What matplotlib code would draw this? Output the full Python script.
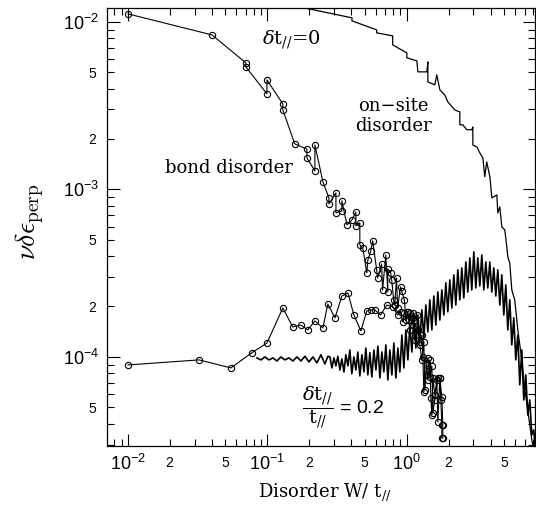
import numpy as np
import matplotlib
matplotlib.use("Agg")
import matplotlib.pyplot as plt
from matplotlib.ticker import FixedLocator, FuncFormatter, LogLocator

# ---- bond disorder, delta t = 0 (open circles) ----
bond0_W = [0.0100, 0.0400, 0.0701, 0.0701, 0.0992, 0.0992, 0.129, 0.129, 0.157,
           0.192, 0.192, 0.219, 0.219, 0.250, 0.276, 0.276, 0.310, 0.310, 0.342,
           0.342, 0.372, 0.404, 0.431, 0.431, 0.460, 0.460, 0.483, 0.516, 0.525,
           0.551, 0.569, 0.607, 0.617, 0.659, 0.670, 0.706, 0.730, 0.730, 0.766,
           0.779, 0.804, 0.817, 0.844, 0.858, 0.901, 0.916, 0.961, 0.984, 1.017,
           1.050, 1.104, 1.140, 1.199, 1.239, 1.281, 1.324, 1.346, 1.391, 1.415,
           1.462, 1.486, 1.511, 1.536, 1.587, 1.640, 1.668, 1.724, 1.753, 1.782, 1.782]
bond0_E = [1.116e-2, 8.36e-3, 5.69e-3, 5.38e-3, 3.72e-3, 4.50e-3, 3.24e-3, 2.98e-3, 1.87e-3,
           1.74e-3, 1.54e-3, 1.29e-3, 1.84e-3, 1.11e-3, 8.90e-4, 8.19e-4, 9.53e-4, 7.24e-4, 7.44e-4,
           8.54e-4, 6.14e-4, 6.58e-4, 7.34e-4, 6.06e-4, 6.31e-4, 4.66e-4, 4.47e-4, 3.17e-4, 3.79e-4,
           4.29e-4, 4.93e-4, 3.31e-4, 2.96e-4, 3.59e-4, 2.51e-4, 4.06e-4, 2.44e-4, 3.35e-4, 3.17e-4,
           2.88e-4, 2.19e-4, 2.04e-4, 2.96e-4, 1.96e-4, 2.62e-4, 2.48e-4, 2.19e-4, 1.66e-4, 1.86e-4,
           1.45e-4, 1.71e-4, 1.26e-4, 1.45e-4, 1.18e-4, 9.60e-5, 1.23e-4, 6.35e-5, 8.96e-5, 7.29e-5,
           9.60e-5, 5.69e-5, 4.50e-5, 7.49e-5, 5.93e-5, 7.29e-5, 4.09e-5, 7.49e-5, 5.54e-5, 3.93e-5, 3.28e-5]

# ---- bond disorder, delta t / t = 0.2 (open circles) ----
bond2_W = [0.0100, 0.0323, 0.0547, 0.0774, 0.0992, 0.129, 0.152, 0.174, 0.195, 0.219,
           0.250, 0.271, 0.305, 0.342, 0.378, 0.417, 0.468, 0.516, 0.551, 0.588,
           0.648, 0.718, 0.791, 0.858, 0.901, 0.931, 0.961, 1.000, 1.033, 1.050,
           1.086, 1.104, 1.140, 1.180, 1.199, 1.239, 1.281, 1.302, 1.324, 1.391,
           1.415, 1.462, 1.511, 1.536, 1.587, 1.668, 1.724, 1.782, 1.811, 1.811]
bond2_E = [8.96e-5, 9.60e-5, 8.60e-5, 1.06e-4, 1.21e-4, 1.96e-4, 1.51e-4, 1.55e-4, 1.45e-4, 1.64e-4,
           1.49e-4, 2.07e-4, 1.71e-4, 2.31e-4, 2.41e-4, 1.78e-4, 1.43e-4, 1.88e-4, 1.91e-4, 1.91e-4,
           1.78e-4, 2.04e-4, 1.99e-4, 1.78e-4, 1.86e-4, 1.62e-4, 1.83e-4, 1.86e-4, 1.66e-4, 1.83e-4,
           1.55e-4, 1.83e-4, 1.66e-4, 1.78e-4, 1.45e-4, 1.23e-4, 1.35e-4, 1.00e-4, 6.18e-5, 9.21e-5,
           9.86e-5, 7.60e-5, 8.84e-5, 4.63e-5, 5.54e-5, 7.49e-5, 7.49e-5, 5.77e-5, 3.93e-5, 3.28e-5]

# ---- on-site disorder, delta t = 0 (line) ----
site0_W = [0.157, 0.404, 0.404, 0.607, 0.607, 0.791, 0.791, 1.000, 1.000, 1.180,
           1.199, 1.391, 1.415, 1.415, 1.587, 1.640, 1.724, 1.872, 1.967, 2.208,
           2.399, 2.399, 2.518, 2.692, 2.925, 2.973, 2.973, 3.18, 3.34, 3.51,
           3.62, 3.74, 3.94, 4.07, 4.42, 4.49, 4.64, 4.80, 5.04, 5.21,
           5.30, 5.47, 5.66, 5.94, 6.25, 6.67, 7.02, 7.36, 7.87, 8.27]
site0_E = [1.245e-2, 1.057e-2, 1.014e-2, 8.96e-3, 8.60e-3, 8.25e-3, 7.29e-3, 6.53e-3, 6.10e-3, 5.85e-3,
           5.03e-3, 5.03e-3, 5.77e-3, 4.38e-3, 4.21e-3, 4.83e-3, 3.93e-3, 3.66e-3, 3.33e-3, 2.98e-3,
           2.90e-3, 2.43e-3, 2.43e-3, 2.27e-3, 2.27e-3, 2.36e-3, 1.84e-3, 1.79e-3, 1.65e-3, 1.54e-3,
           1.19e-3, 1.46e-3, 1.19e-3, 8.90e-4, 9.27e-4, 7.24e-4, 7.86e-4, 5.97e-4, 5.73e-4, 4.53e-4,
           3.95e-4, 3.64e-4, 2.51e-4, 2.19e-4, 1.45e-4, 9.60e-5, 6.35e-5, 4.83e-5, 3.20e-5, 2.60e-5]

# ---- on-site disorder, delta t / t = 0.2 (noisy line) ----
site2_W = [0.0841, 0.0898, 0.0960, 0.1025, 0.1095, 0.1170, 0.1250, 0.1335, 0.1426, 0.1524,
           0.1628, 0.1739, 0.1858, 0.1985, 0.2120, 0.2264, 0.2419, 0.2584, 0.2715,
           0.281, 0.290, 0.300, 0.310, 0.320, 0.331, 0.342, 0.354, 0.365, 0.378,
           0.390, 0.403, 0.417, 0.431, 0.445, 0.460, 0.476, 0.492, 0.508, 0.525,
           0.543, 0.561, 0.580, 0.600, 0.620, 0.641, 0.662, 0.684, 0.707, 0.731,
           0.755, 0.781, 0.807, 0.834, 0.862, 0.891, 0.921, 0.952, 0.984, 1.017,
           1.051, 1.086, 1.123, 1.160, 1.199, 1.239, 1.281, 1.324, 1.368, 1.414,
           1.462, 1.511, 1.561, 1.614, 1.668, 1.724, 1.782, 1.842, 1.903, 1.967,
           2.033, 2.102, 2.172, 2.245, 2.320, 2.398, 2.479, 2.562, 2.648, 2.737,
           2.829, 2.923, 3.022, 3.123, 3.228, 3.336, 3.448, 3.564, 3.683, 3.807,
           3.935, 4.067, 4.203, 4.344, 4.490, 4.642, 4.797, 4.958, 5.125, 5.297,
           5.474, 5.658, 5.848, 6.044, 6.247, 6.457, 6.673, 6.897, 7.129, 7.368,
           7.615, 7.871, 8.135, 8.408]
site2_E = [9.86e-5, 9.60e-5, 1.00e-4, 9.60e-5, 9.86e-5, 9.46e-5, 1.00e-4, 9.60e-5, 9.86e-5, 9.46e-5,
           1.00e-4, 9.46e-5, 1.01e-4, 9.34e-5, 1.00e-4, 9.21e-5, 1.03e-4, 9.08e-5, 1.01e-4,
           1.00e-4, 8.60e-5, 9.86e-5, 8.84e-5, 1.01e-4, 8.36e-5, 9.73e-5, 8.14e-5, 1.03e-4, 8.84e-5,
           1.10e-4, 7.92e-5, 1.00e-4, 8.36e-5, 1.07e-4, 7.70e-5, 1.03e-4, 8.14e-5, 1.13e-4, 7.81e-5,
           1.06e-4, 7.60e-5, 1.10e-4, 8.36e-5, 1.16e-4, 7.49e-5, 1.07e-4, 8.14e-5, 1.18e-4, 7.29e-5,
           1.10e-4, 7.81e-5, 1.21e-4, 7.49e-5, 1.13e-4, 8.14e-5, 1.35e-4, 8.60e-5, 1.45e-4, 9.60e-5,
           1.55e-4, 1.07e-4, 1.71e-4, 1.13e-4, 1.78e-4, 1.26e-4, 1.91e-4, 1.30e-4, 2.04e-4, 1.41e-4,
           2.19e-4, 1.45e-4, 2.31e-4, 1.55e-4, 2.44e-4, 1.66e-4, 2.51e-4, 1.78e-4, 2.77e-4, 1.86e-4,
           2.88e-4, 1.96e-4, 3.09e-4, 2.04e-4, 3.31e-4, 2.19e-4, 3.40e-4, 2.25e-4, 3.69e-4, 2.44e-4,
           3.90e-4, 2.51e-4, 4.24e-4, 2.58e-4, 3.90e-4, 2.65e-4, 4.06e-4, 2.51e-4, 3.69e-4, 2.58e-4,
           3.69e-4, 2.44e-4, 3.40e-4, 2.31e-4, 3.31e-4, 2.04e-4, 3.09e-4, 1.78e-4, 2.69e-4, 1.45e-4,
           2.19e-4, 1.18e-4, 1.71e-4, 9.60e-5, 1.35e-4, 6.81e-5, 1.10e-4, 5.54e-5, 7.81e-5, 4.50e-5,
           5.54e-5, 3.42e-5, 3.67e-5, 2.60e-5]

x_major = [0.01, 0.1, 1.0]
x_major_labels = [r"$\mathregular{10^{-2}}$", r"$\mathregular{10^{-1}}$", r"$\mathregular{10^{0}}$"]
y_major = [1e-4, 1e-3, 1e-2]
y_major_labels = [r"$\mathregular{10^{-4}}$", r"$\mathregular{10^{-3}}$", r"$\mathregular{10^{-2}}$"]

plt.rcParams["font.family"] = "Liberation Sans"
plt.rcParams["mathtext.fontset"] = "custom"
plt.rcParams["mathtext.rm"] = "Liberation Sans"
plt.rcParams["mathtext.it"] = "Liberation Sans:italic"

W, H = 536, 514
fig = plt.figure(figsize=(W / 100, H / 100), dpi=100)
ax = fig.add_axes([107 / W, 1 - 446 / H, 428 / W, 438 / H])
ax.set_xscale("log")
ax.set_yscale("log")

ax.plot(site0_W, site0_E, color="black", lw=0.9)
ax.plot(site2_W, site2_E, color="black", lw=1.2)
ax.plot(bond2_W, bond2_E, "-o", color="black", lw=0.8, ms=4.5, mfc="none", mew=0.8)
ax.plot(bond0_W, bond0_E, "-o", color="black", lw=0.8, ms=4.5, mfc="none", mew=0.8)

ax.set_xlim(0.00707, 8.3)
ax.set_ylim(2.94e-5, 0.0121)


def minor_fmt(v, pos):
    m = v / 10 ** np.floor(np.log10(v) + 1e-9)
    if abs(m - 2) < 0.01 or abs(m - 5) < 0.01:
        return r"$\mathit{%d}$" % round(m)
    return ""


ax.xaxis.set_major_locator(FixedLocator(x_major))
ax.yaxis.set_major_locator(FixedLocator(y_major))
ax.set_xticklabels(x_major_labels)
ax.set_yticklabels(y_major_labels)
ax.xaxis.set_minor_locator(LogLocator(base=10, subs=range(2, 10), numticks=20))
ax.yaxis.set_minor_locator(LogLocator(base=10, subs=range(2, 10), numticks=20))
ax.xaxis.set_minor_formatter(FuncFormatter(minor_fmt))
ax.yaxis.set_minor_formatter(FuncFormatter(minor_fmt))

ax.tick_params(which="both", direction="in", top=True, right=True, width=0.8)
ax.tick_params(which="major", length=9, labelsize=13, pad=6)
ax.tick_params(which="minor", length=5, labelsize=10, pad=7)
for s in ax.spines.values():
    s.set_linewidth(0.9)

serif = "DejaVu Serif"
fig.text(325 / W, 1 - 492 / H, r"Disorder W/ t$_{//}$", ha="center", va="center",
         fontsize=13, family=serif, math_fontfamily="dejavuserif")
fig.text(30 / W, 1 - 222 / H, r"$\nu\delta\epsilon_{\mathrm{perp}}$", ha="center", va="center",
         rotation=90, fontsize=20, math_fontfamily="cm")

fig.text(262 / W, 1 - 40 / H, r"$\delta$t$_{//}$=0", ha="left", va="center",
         fontsize=14, family=serif, math_fontfamily="dejavuserif")
fig.text(393 / W, 1 - 116 / H, "on\u2212site\ndisorder", ha="center", va="center",
         fontsize=13, family=serif, linespacing=1.1)
fig.text(165 / W, 1 - 168 / H, "bond disorder", ha="left", va="center",
         fontsize=13, family=serif)
fig.text(302 / W, 1 - 408 / H, r"$\dfrac{\delta \mathrm{t}_{//}}{\mathrm{t}_{//}}$ = 0.2", ha="left",
         va="center", fontsize=14, family="Liberation Sans", math_fontfamily="dejavuserif")

fig.savefig("out.png", dpi=100)
